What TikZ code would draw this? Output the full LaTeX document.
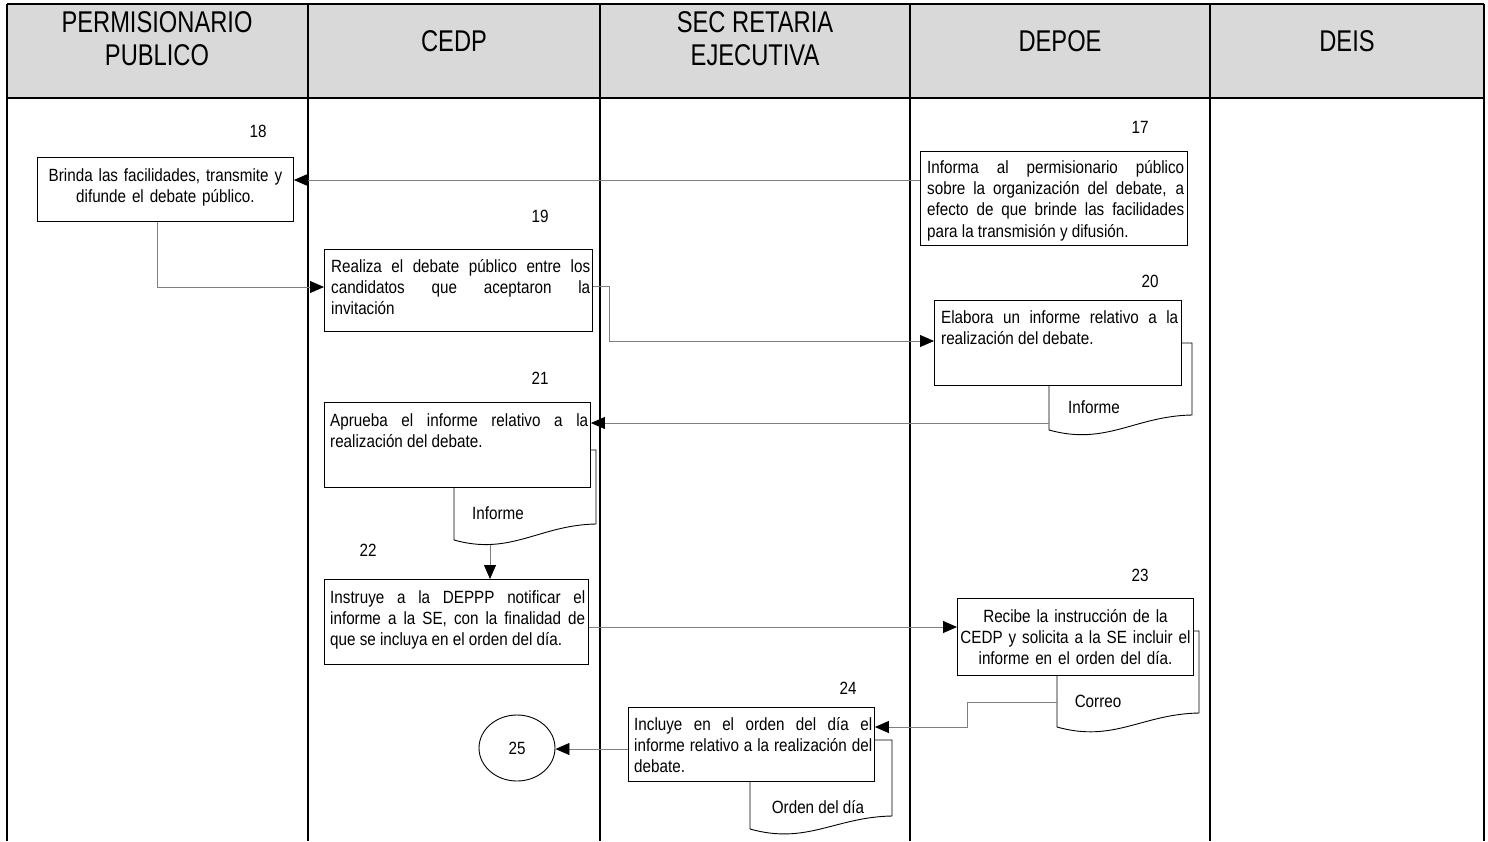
\documentclass[tikz,border=0pt]{standalone}
\usepackage{fontspec}
\setmainfont{Liberation Sans}[FakeStretch=0.86]
\newfontfamily\headfont{Liberation Sans}[FakeStretch=0.79]
\usetikzlibrary{arrows.meta,calc,shapes.geometric}
\definecolor{headfill}{HTML}{D9D9D9}
\definecolor{conngray}{HTML}{7F7F7F}
\newcommand\mydoc[5]{%
  \draw[doc] (#1,#3) -- (#2,#3) -- (#2,#4)
    .. controls ({#2-0.4*(#2-#1)},{#4+1}) and ({#1+0.4*(#2-#1)},{#5+16}) .. (#1,#5) -- cycle;}
\begin{document}
\begin{tikzpicture}[x=1pt,y=-1pt,
  box/.style={draw=black, line width=0.9pt, fill=white, inner sep=0pt, anchor=north west},
  txt/.style={inner sep=0pt, font=\fontsize{17.7}{21.3}\selectfont, anchor=north west},
  num/.style={inner sep=0pt, font=\fontsize{17.7}{21.3}\selectfont},
  conn/.style={draw=conngray, line width=0.8pt, -{Triangle[length=14pt,width=12pt,color=black]}},
  doc/.style={draw=black, line width=0.9pt, fill=white},
  head/.style={font=\headfont\fontsize{30}{33}\selectfont, align=center, inner sep=0pt},
  grid/.style={draw=black, line width=1.1pt}]
\useasboundingbox (0,0) rectangle (1488,841);
% header and lanes
\fill[headfill] (7,4) rectangle (1484,98);
\draw[grid] (7,4) -- (1484,4);
\draw[grid] (7,98) -- (1484,98);
\foreach \x in {7,308,600,910,1210,1484} {\draw[grid] (\x,4) -- (\x,841);}
\node[head] (h1) at (157,39) {PERMISIONARIO\\PUBLICO};
\node[head] (h2) at (454,41) {CEDP};
\node[head] (h3) at (755,39) {SEC RETARIA\\EJECUTIVA};
\node[head] (h4) at (1060,41) {DEPOE};
\node[head] (h5) at (1347,41) {DEIS};
% documents (drawn first, boxes overlap them)
\mydoc{1049}{1192}{343}{415}{430}
\mydoc{454}{596}{450}{524}{540}
\mydoc{1057}{1199}{631}{713}{727}
\mydoc{750}{892}{740}{816}{829}
\node[num] (d20) at (1094,407) {Informe};
\node[num] (d21) at (498,513) {Informe};
\node[num] (d23) at (1098,701) {Correo};
\node[num] (d24) at (818,807) {Orden del día};
% boxes
\node[box, minimum width=256, minimum height=64] (b18) at (37,157) {};
\node[box, minimum width=267, minimum height=94] (b17) at (920,151) {};
\node[box, minimum width=268, minimum height=82] (b19) at (324,249) {};
\node[box, minimum width=247, minimum height=85] (b20) at (934,300) {};
\node[box, minimum width=266, minimum height=85] (b21) at (324,402) {};
\node[box, minimum width=264, minimum height=85] (b22) at (324,579) {};
\node[box, minimum width=236, minimum height=77] (b23) at (957,598) {};
\node[box, minimum width=246, minimum height=74] (b24) at (628,707) {};
% box texts
\node[txt, anchor=north, text width=250, align=center] (t18) at ($(b18.north)+(0,10)$)
  {\rule{0pt}{14pt}Brinda las facilidades, transmite y\\difunde el debate público.};
\node[txt, text width=257, align=justify] (t17) at ($(b17.north west)+(7,8)$)
  {\rule{0pt}{14pt}Informa al permisionario público\linebreak sobre la organización del debate, a\linebreak efecto de que brinde las facilidades\linebreak para la transmisión y difusión.};
\node[txt, text width=259, align=justify] (t19) at ($(b19.north west)+(7,9)$)
  {\rule{0pt}{14pt}Realiza el debate público entre los\linebreak candidatos que aceptaron la\linebreak invitación};
\node[txt, text width=237, align=justify] (t20) at ($(b20.north west)+(7,9)$)
  {\rule{0pt}{14pt}Elabora un informe relativo a la\linebreak realización del debate.};
\node[txt, text width=258, align=justify] (t21) at ($(b21.north west)+(6,10)$)
  {\rule{0pt}{14pt}Aprueba el informe relativo a la\linebreak realización del debate.};
\node[txt, text width=255, align=justify] (t22) at ($(b22.north west)+(6,10)$)
  {\rule{0pt}{14pt}Instruye a la DEPPP notificar el\linebreak informe a la SE, con la finalidad de\linebreak que se incluya en el orden del día.};
\node[txt, anchor=north, text width=232, align=center] (t23) at ($(b23.north)+(0,10)$)
  {\rule{0pt}{14pt}Recibe la instrucción de la\\CEDP y solicita a la SE incluir el\\informe en el orden del día.};
\node[txt, text width=238, align=justify] (t24) at ($(b24.north west)+(6,9)$)
  {\rule{0pt}{14pt}Incluye en el orden del día el\linebreak informe relativo a la realización del\linebreak debate.};
% step numbers
\node[num] (n18) at (258,131) {18};
\node[num] (n17) at (1140,127) {17};
\node[num] (n19) at (540,216) {19};
\node[num] (n20) at (1150,281) {20};
\node[num] (n21) at (540,378) {21};
\node[num] (n22) at (368,550) {22};
\node[num] (n23) at (1140,575) {23};
\node[num] (n24) at (848,688) {24};
% connector 25
\node[draw=black, line width=0.9pt, ellipse, minimum width=76, minimum height=66, inner sep=0pt,
  font=\fontsize{17.7}{21.3}\selectfont] (c25) at (517,748) {25};
% connectors
\coordinate (p1) at ([yshift=-29pt]b17.north west);
\draw[conn] (p1) -- (b18.east |- p1);
\coordinate (p2) at ([xshift=-8pt]b18.south);
\coordinate (p2b) at ([yshift=-38pt]b19.north west);
\draw[conn] (p2) |- (p2b);
\coordinate (p3) at ([yshift=-37pt]b19.north east);
\coordinate (p3b) at ([yshift=-41pt]b20.north west);
\draw[conn] (p3) -- ++(16,0) |- (p3b);
\coordinate (d20w) at (1049,423);
\draw[conn] (d20w) -- (b21.east |- d20w);
\coordinate (d21s) at (490,545);
\draw[conn] (d21s) -- (d21s |- b22.north);
\coordinate (p6) at ([yshift=-48pt]b22.north east);
\draw[conn] (p6) -- (b23.west |- p6);
\coordinate (d23w) at (1057,702);
\coordinate (p7) at ([yshift=-20pt]b24.north east);
\draw[conn] (d23w) -- ++(-90,0) |- (p7);
\coordinate (p8) at ([yshift=-42pt]b24.north west);
\draw[conn] (p8) -- (c25.east |- p8);
\end{tikzpicture}
\end{document}
